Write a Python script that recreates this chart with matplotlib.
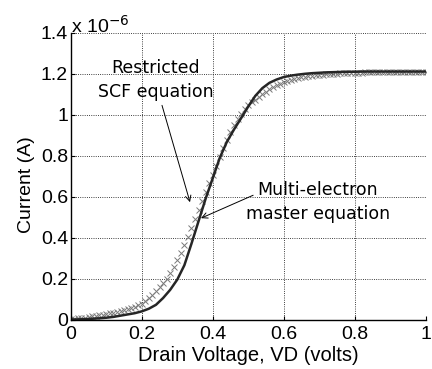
import numpy as np
import matplotlib
matplotlib.use('Agg')
import matplotlib.pyplot as plt

# Drain voltage grid for each curve (volts)
vd_scf = [round(0.01 * i, 2) for i in range(101)]
vd_master = [round(0.02 * i, 2) for i in range(51)]

# Restricted SCF equation, current in units of 1e-6 A
i_scf = [0.004, 0.005, 0.006, 0.008, 0.010, 0.012, 0.015, 0.018, 0.021, 0.024,
         0.027, 0.030, 0.034, 0.038, 0.042, 0.046, 0.051, 0.056, 0.062, 0.069,
         0.077, 0.090, 0.104, 0.120, 0.138, 0.157, 0.178, 0.200, 0.228, 0.258,
         0.290, 0.325, 0.362, 0.402, 0.445, 0.490, 0.534, 0.578, 0.622, 0.665,
         0.705, 0.750, 0.795, 0.838, 0.878, 0.915, 0.948, 0.978, 1.005, 1.028,
         1.048, 1.060, 1.072, 1.086, 1.100, 1.112, 1.124, 1.135, 1.144, 1.152,
         1.159, 1.165, 1.170, 1.174, 1.178, 1.182, 1.185, 1.188, 1.190, 1.192,
         1.194, 1.196, 1.198, 1.199, 1.200, 1.201, 1.202, 1.203, 1.204, 1.205,
         1.205, 1.206, 1.206, 1.207, 1.207, 1.207, 1.208, 1.208, 1.208, 1.208,
         1.209, 1.209, 1.209, 1.209, 1.209, 1.210, 1.210, 1.210, 1.210, 1.210,
         1.210]

# Multi-electron master equation, current in units of 1e-6 A
i_master = [0.000, 0.001, 0.002, 0.004, 0.006, 0.009, 0.013, 0.019, 0.025, 0.031,
            0.040, 0.053, 0.072, 0.105, 0.145, 0.195, 0.265, 0.370, 0.480, 0.590,
            0.690, 0.790, 0.868, 0.928, 0.983, 1.040, 1.092, 1.130, 1.156, 1.172,
            1.184, 1.191, 1.196, 1.200, 1.203, 1.205, 1.207, 1.208, 1.209, 1.210,
            1.210, 1.211, 1.211, 1.211, 1.211, 1.211, 1.211, 1.211, 1.211, 1.211,
            1.211]

x_ticks = [0, 0.2, 0.4, 0.6, 0.8, 1]
y_ticks = [0, 0.2, 0.4, 0.6, 0.8, 1, 1.2, 1.4]

plt.rcParams['font.family'] = ['Liberation Sans', 'DejaVu Sans']

fig = plt.figure(figsize=(4.32, 3.69), dpi=100)
ax = fig.add_axes([0.164, 0.134, 0.821, 0.777])

ax.plot(vd_scf, i_scf, linestyle='none', marker='x', markersize=4,
        markeredgewidth=0.7, color='#7a7a7a')
ax.plot(vd_master, i_master, color='#262626', linewidth=1.8)

ax.set_xlim(0, 1)
ax.set_ylim(0, 1.4)
ax.set_xticks(x_ticks)
ax.set_yticks(y_ticks)
ax.set_xticklabels(['%g' % v for v in x_ticks])
ax.set_yticklabels(['%g' % v for v in y_ticks])
ax.tick_params(direction='in', labelsize=14, length=3, width=0.8)
ax.tick_params(axis='x', pad=5)
ax.tick_params(axis='y', pad=2)
ax.grid(True, linestyle=':', color='black', linewidth=0.6)

for side in ['top', 'right']:
    ax.spines[side].set_visible(False)
for side in ['left', 'bottom']:
    ax.spines[side].set_linewidth(1.0)

ax.set_xlabel('Drain Voltage, VD (volts)', fontsize=14.5, labelpad=2)
ax.set_ylabel('Current (A)', fontsize=14)
ax.yaxis.set_label_coords(-0.1, 0.47)
ax.text(0.0, 1.0, r'x 10$^{-6}$', transform=ax.transAxes,
        fontsize=14, ha='left', va='baseline')

# annotation texts and arrows (tail -> head, data coords)
note_kw = dict(ha='center', va='center', linespacing=1.45,
               family='DejaVu Sans', fontsize=12.5)
arrow_kw = dict(arrowstyle='->', color='black', lw=0.7, shrinkA=0, shrinkB=0)
ax.text(0.24, 1.17, 'Restricted\nSCF equation', **note_kw)
ax.annotate('', xy=(0.336, 0.573), xytext=(0.257, 1.046), arrowprops=arrow_kw)
ax.text(0.697, 0.573, 'Multi-electron\nmaster equation', **note_kw)
ax.annotate('', xy=(0.367, 0.495), xytext=(0.514, 0.607), arrowprops=arrow_kw)

fig.savefig('out.png', dpi=100)
